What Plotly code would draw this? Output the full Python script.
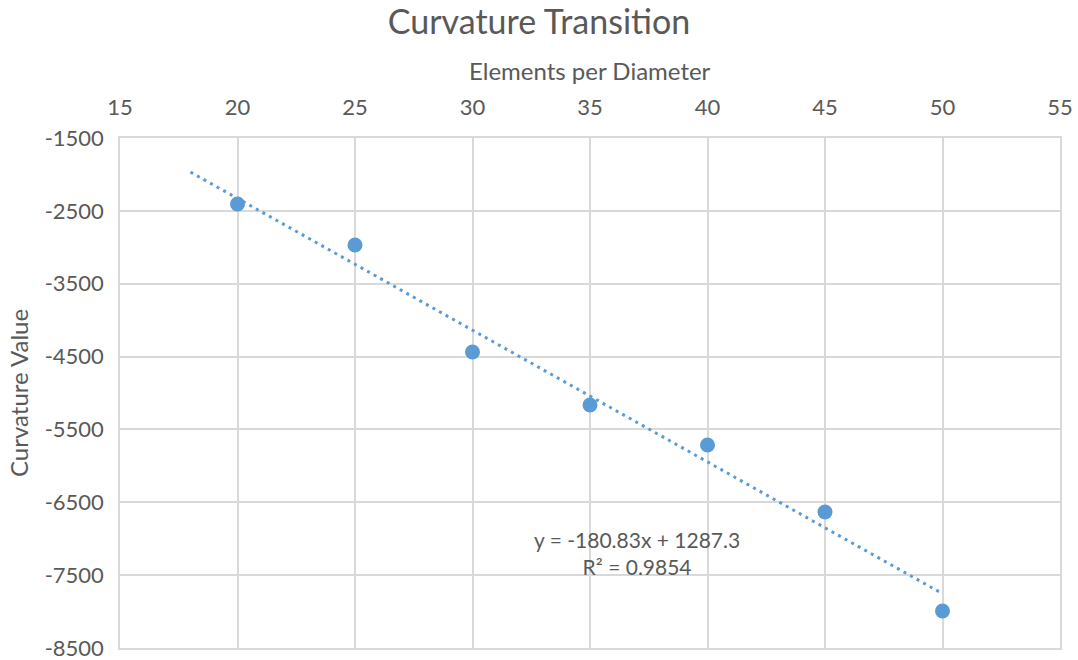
import plotly.graph_objects as go

# Measured curvature at each mesh density
elements_per_diameter = [20, 25, 30, 35, 40, 45, 50]
curvature_value = [-2406, -2969, -4437, -5165, -5714, -6633, -7992]

# Linear trendline (reported fit) and the span it is drawn over
trend_slope = -180.83
trend_intercept = 1287.3
trend_r2 = 0.9854
trend_x = [18, 50]
trend_y = [trend_slope * x + trend_intercept for x in trend_x]

x_ticks = [15, 20, 25, 30, 35, 40, 45, 50, 55]
y_ticks = [-1500, -2500, -3500, -4500, -5500, -6500, -7500, -8500]

blue = "#5B9BD5"
grey_text = "#595959"
grid = "#D9D9D9"
font_family = "Lato, 'Open Sans', sans-serif"

fig = go.Figure()

fig.add_trace(go.Scatter(
    x=trend_x, y=trend_y, mode="lines",
    line=dict(color=blue, width=3, dash="3px,4.5px"),
    hoverinfo="skip", showlegend=False,
))

fig.add_trace(go.Scatter(
    x=elements_per_diameter, y=curvature_value, mode="markers",
    marker=dict(color=blue, size=15),
    showlegend=False,
))

# Trendline equation label
fig.add_annotation(
    x=37.0, y=-7190, xref="x", yref="y",
    text=f"y = {trend_slope}x + {trend_intercept}<br>R² = {trend_r2}",
    showarrow=False, xanchor="center", yanchor="middle",
    font=dict(family=font_family, size=21, color=grey_text),
    align="center",
)

# Axis titles placed as annotations for precise positioning
fig.add_annotation(
    x=0.5, y=1, xref="paper", yref="paper",
    text="Elements per Diameter", showarrow=False,
    xanchor="center", yanchor="middle", yshift=68,
    font=dict(family=font_family, size=24, color=grey_text),
)
fig.add_annotation(
    x=0, y=0.5, xref="paper", yref="paper",
    text="Curvature Value", showarrow=False, textangle=-90,
    xanchor="center", yanchor="middle", xshift=-102,
    font=dict(family=font_family, size=24, color=grey_text),
)

fig.update_layout(
    width=1078, height=660,
    margin=dict(l=120, r=18, t=138, b=12, autoexpand=False),
    paper_bgcolor="white", plot_bgcolor="white",
    title=dict(
        text="Curvature Transition",
        x=0.5, xanchor="center", y=0.966, yanchor="middle",
        font=dict(family=font_family, size=34, color=grey_text),
    ),
    font=dict(family=font_family, color=grey_text),
)

fig.update_xaxes(
    side="top", range=[15, 55], tickmode="array", tickvals=x_ticks,
    ticktext=[str(v) for v in x_ticks],
    tickfont=dict(size=22, color=grey_text),
    showgrid=True, gridcolor=grid, gridwidth=1.5,
    showline=True, linecolor=grid, linewidth=1.5, mirror=True,
    zeroline=False, ticks="", ticklabelstandoff=12, automargin=False,
    ticklabeloverflow="allow",
)

fig.update_yaxes(
    range=[-8500, -1500], tickmode="array", tickvals=y_ticks,
    ticktext=[str(v) for v in y_ticks],
    tickfont=dict(size=22, color=grey_text),
    showgrid=True, gridcolor=grid, gridwidth=1.5,
    showline=True, linecolor=grid, linewidth=1.5, mirror=True,
    zeroline=False, ticks="", ticklabelstandoff=10, automargin=False,
    ticklabeloverflow="allow",
)

fig.write_html("out.html")
